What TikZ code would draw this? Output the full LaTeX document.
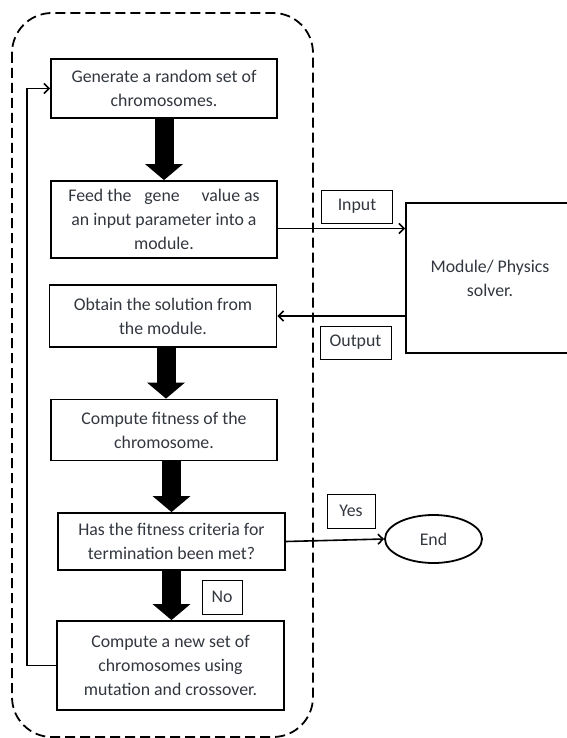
\documentclass[tikz,border=0pt]{standalone}
\usepackage[dvipsnames]{xcolor}
\usepackage{fontspec}
\setmainfont{Carlito}
\colorlet{colorText}{MidnightBlue!25!black}
\colorlet{colorLine}{black}
\usepackage{tikz}
\usetikzlibrary{arrows.meta, positioning, shapes.geometric}
\tikzset{stepbox/.style={draw=colorLine, line width=1.8pt, align=center, inner sep=0pt, text=colorText},
  tagbox/.style={draw=colorLine, line width=1pt, inner sep=0pt, text=colorText},
  fatarrow/.style={line width=19pt, -{Triangle[width=37pt,length=16pt]}},
  flowline/.style={line width=1.6pt, ->}}

\begin{document}
\begin{tikzpicture}[x=1pt, y=-1pt, >={Straight Barb[length=5pt,width=10pt]}, font=\fontsize{17.8}{24}\selectfont]
\useasboundingbox (0,0) rectangle (566,738);
\draw[line width=1.8pt, dash pattern=on 10pt off 5pt, rounded corners=40pt] (12,13) rectangle (313,737);
\node[stepbox, minimum width=226pt, minimum height=59pt] (gen) at (164,88.5) {Generate a random set of\\chromosomes.};
\node[stepbox, minimum width=226pt, minimum height=77pt] (feed) at (164,219.5) {Feed the \enspace gene \quad value as\\an input parameter into a\\module.};
\node[stepbox, minimum width=227pt, minimum height=62pt] (obtain) at (163,316) {Obtain the solution from\\the module.};
\node[stepbox, minimum width=226pt, minimum height=61pt] (fit) at (164,430) {Compute fitness of the\\chromosome.};
\node[stepbox, minimum width=227pt, minimum height=57pt] (crit) at (171.5,541.5) {Has the fitness criteria for\\termination been met?};
\node[stepbox, minimum width=227pt, minimum height=89pt] (newset) at (170.5,665.5) {Compute a new set of\\chromosomes using\\mutation and crossover.};
\node[stepbox, minimum width=168pt, minimum height=150pt] (solver) at (490,278) {Module/ Physics\\solver.};
\node[ellipse, draw=colorLine, line width=1.8pt, minimum width=97pt, minimum height=48pt, text=colorText] (finish) at (433.5,539) {End};
\node[tagbox, minimum width=71pt, minimum height=33pt] (in) at (357,206.5) {Input};
\node[tagbox, minimum width=71pt, minimum height=33pt] (out) at (355.5,342.5) {Output};
\node[tagbox, minimum width=48pt, minimum height=34pt] (yes) at (351,511) {Yes};
\node[tagbox, minimum width=40pt, minimum height=34pt] (no) at (222,597) {No};
\draw[fatarrow] (gen.south) -- (feed.north);
\draw[fatarrow] ([xshift=3pt]obtain.south) -- ([xshift=3pt]obtain.south |- fit.north);
\draw[fatarrow] (fit.south -| crit.north) -- (crit.north);
\draw[fatarrow] (crit.south) -- (crit.south |- newset.north);
\draw[flowline] ([yshift=-9pt]feed.east) -- ([yshift=-9pt]feed.east -| solver.west);
\draw[flowline] (solver.west |- obtain.east) -- (obtain.east);
\draw[flowline] (crit.east) -- (finish.west);
\draw[flowline] (newset.west) -- ++(-29,0) |- (gen.west);
\end{tikzpicture}
\end{document}
